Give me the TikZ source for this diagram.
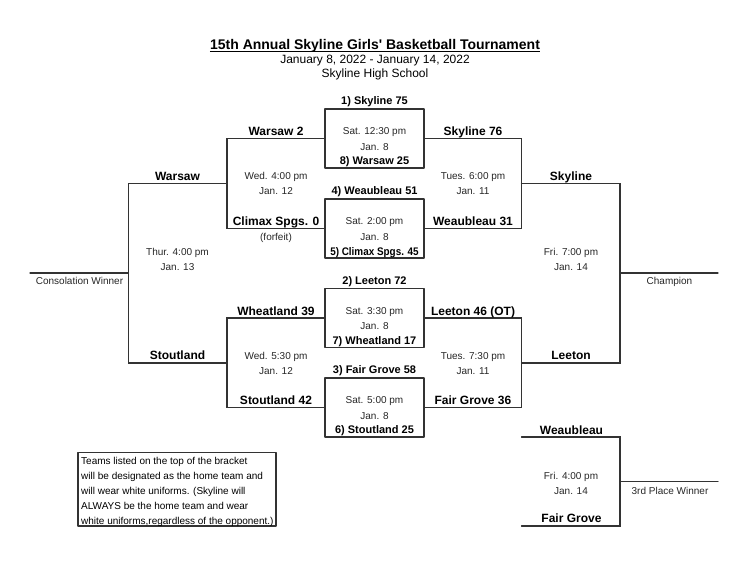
\documentclass[tikz,border=0pt]{standalone}
\usepackage{fontspec}
\setmainfont{Liberation Sans}
\usepackage{tkz-euclide}
\definecolor{linegray}{HTML}{333333}

\begin{document}
\begin{tikzpicture}[x=1pt,y=-1pt,
		bracket/.style={line width=1.25pt,color=linegray},
		title/.style={font=\bfseries\fontsize{14}{16}\selectfont,text height=10pt,text depth=0pt,inner sep=0pt},
		head/.style={font=\fontsize{12}{14}\selectfont,text height=8.6pt,text depth=0pt,inner sep=0pt},
		team/.style={font=\bfseries\fontsize{12}{14}\selectfont,text height=8.6pt,text depth=0pt,inner sep=0pt},
		seed/.style={font=\bfseries\fontsize{11}{13}\selectfont,text height=7.9pt,text depth=0pt,inner sep=0pt},
		info/.style={font=\fontsize{10}{12}\selectfont,text=black!85,text height=7.2pt,text depth=0pt,inner sep=0pt},
		note/.style={info,text=black,anchor=west}]
		\useasboundingbox (0,0) rectangle (750,563);
		\tkzDefPoint(325,109){s_{1}}\tkzDefPoint(424,109){s_{2}}\tkzDefPoint(424,168){s_{3}}\tkzDefPoint(325,168){s_{4}}
		\tkzDefPoint(325,199){s_{5}}\tkzDefPoint(424,199){s_{6}}\tkzDefPoint(424,258){s_{7}}\tkzDefPoint(325,258){s_{8}}
		\tkzDefPoint(325,288.5){s_{9}}\tkzDefPoint(424,288.5){s_{10}}\tkzDefPoint(424,347.5){s_{11}}\tkzDefPoint(325,347.5){s_{12}}
		\tkzDefPoint(325,378){s_{13}}\tkzDefPoint(424,378){s_{14}}\tkzDefPoint(424,437){s_{15}}\tkzDefPoint(325,437){s_{16}}
		\tkzDefPoint(325,138.5){a_{1}}\tkzDefPoint(227,138.5){a_{2}}\tkzDefPoint(227,228.5){a_{3}}\tkzDefPoint(325,228.5){a_{4}}
		\tkzDefPoint(325,318){a_{5}}\tkzDefPoint(227,318){a_{6}}\tkzDefPoint(227,407.5){a_{7}}\tkzDefPoint(325,407.5){a_{8}}
		\tkzDefPoint(424,138.5){b_{1}}\tkzDefPoint(521.5,138.5){b_{2}}\tkzDefPoint(521.5,228.5){b_{3}}\tkzDefPoint(424,228.5){b_{4}}
		\tkzDefPoint(424,318){b_{5}}\tkzDefPoint(521.5,318){b_{6}}\tkzDefPoint(521.5,407.5){b_{7}}\tkzDefPoint(424,407.5){b_{8}}
		\tkzDefPoint(227,183.5){c_{1}}\tkzDefPoint(128.5,183.5){c_{2}}\tkzDefPoint(128.5,363){c_{3}}\tkzDefPoint(227,363){c_{4}}
		\tkzDefPoint(128.5,273){c_{5}}\tkzDefPoint(30,273){c_{6}}
		\tkzDefPoint(521.5,183.5){d_{1}}\tkzDefPoint(620,183.5){d_{2}}\tkzDefPoint(620,363){d_{3}}\tkzDefPoint(521.5,363){d_{4}}
		\tkzDefPoint(620,273){d_{5}}\tkzDefPoint(718,273){d_{6}}
		\tkzDefPoint(521.5,437){e_{1}}\tkzDefPoint(620,437){e_{2}}\tkzDefPoint(620,526){e_{3}}\tkzDefPoint(521.5,526){e_{4}}
		\tkzDefPoint(620,481.5){e_{5}}\tkzDefPoint(718,481.5){e_{6}}
		\tkzDefPoint(78,452.5){n_{1}}\tkzDefPoint(276,452.5){n_{2}}\tkzDefPoint(276,526){n_{3}}\tkzDefPoint(78,526){n_{4}}
		\tkzDrawPolygon[bracket](s_{1},s_{2},s_{3},s_{4})
		\tkzDrawPolygon[bracket](s_{5},s_{6},s_{7},s_{8})
		\tkzDrawPolygon[bracket](s_{9},s_{10},s_{11},s_{12})
		\tkzDrawPolygon[bracket](s_{13},s_{14},s_{15},s_{16})
		\tkzDrawPolySeg[bracket](a_{1},a_{2},a_{3},a_{4})
		\tkzDrawPolySeg[bracket](a_{5},a_{6},a_{7},a_{8})
		\tkzDrawPolySeg[bracket](b_{1},b_{2},b_{3},b_{4})
		\tkzDrawPolySeg[bracket](b_{5},b_{6},b_{7},b_{8})
		\tkzDrawPolySeg[bracket](c_{1},c_{2},c_{3},c_{4})
		\tkzDrawPolySeg[bracket](d_{1},d_{2},d_{3},d_{4})
		\tkzDrawPolySeg[bracket](e_{1},e_{2},e_{3},e_{4})
		\tkzDrawSegments[bracket](c_{5},c_{6} d_{5},d_{6} e_{5},e_{6})
		\tkzDrawPolygon[bracket](n_{1},n_{2},n_{3},n_{4})
		\node[title] (ttl) at (375,44.5) {15th Annual Skyline Girls\textquotesingle{} Basketball Tournament};
		\draw[line width=1pt] ([yshift=-1.8pt]ttl.south west) -- ([yshift=-1.8pt]ttl.south east);
		\node[head] (dts) at (375,59) {January 8, 2022 - January 14, 2022};
		\node[head] (sch) at (375,73) {Skyline High School};
		\node[seed] (g_{1}) at (374.5,101) {1) Skyline 75};
		\node[info] (t_{1}) at (374.5,131) {Sat. 12:30 pm};
		\node[info] (j_{1}) at (374.5,147) {Jan. 8};
		\node[seed] (g_{8}) at (374.5,161) {8) Warsaw 25};
		\node[seed] (g_{4}) at (374.5,191) {4) Weaubleau 51};
		\node[info] (t_{2}) at (374.5,221) {Sat. 2:00 pm};
		\node[info] (j_{2}) at (374.5,237) {Jan. 8};
		\node[seed] (g_{5}) at (374.5,251.5) {\scalebox{.9}[1]{5) Climax Spgs. 45}};
		\node[seed] (g_{2}) at (374.5,281) {2) Leeton 72};
		\node[info] (t_{3}) at (374.5,311) {Sat. 3:30 pm};
		\node[info] (j_{3}) at (374.5,326) {Jan. 8};
		\node[seed] (g_{7}) at (374.5,340.5) {7) Wheatland 17};
		\node[seed] (g_{3}) at (374.5,370) {3) Fair Grove 58};
		\node[info] (t_{4}) at (374.5,400) {Sat. 5:00 pm};
		\node[info] (j_{4}) at (374.5,416) {Jan. 8};
		\node[seed] (g_{6}) at (374.5,430) {6) Stoutland 25};
		\node[team] (q_{1}) at (276,131) {Warsaw 2};
		\node[info] (t_{5}) at (276,176) {Wed. 4:00 pm};
		\node[info] (j_{5}) at (276,191) {Jan. 12};
		\node[team] (q_{2}) at (276,221) {Climax Spgs. 0};
		\node[info] (f_{1}) at (276,237) {(forfeit)};
		\node[team] (q_{3}) at (276,311) {Wheatland 39};
		\node[info] (t_{6}) at (276,356) {Wed. 5:30 pm};
		\node[info] (j_{6}) at (276,371) {Jan. 12};
		\node[team] (q_{4}) at (276,400) {Stoutland 42};
		\node[team] (q_{5}) at (473,131) {Skyline 76};
		\node[info] (t_{7}) at (473,176) {Tues. 6:00 pm};
		\node[info] (j_{7}) at (473,191) {Jan. 11};
		\node[team] (q_{6}) at (473,221) {Weaubleau 31};
		\node[team] (q_{7}) at (473,311) {Leeton 46 (OT)};
		\node[info] (t_{8}) at (473,356) {Tues. 7:30 pm};
		\node[info] (j_{8}) at (473,371) {Jan. 11};
		\node[team] (q_{8}) at (473,400) {Fair Grove 36};
		\node[team] (h_{1}) at (177.5,176) {Warsaw};
		\node[info] (t_{9}) at (177.5,252) {Thur. 4:00 pm};
		\node[info] (j_{9}) at (177.5,267) {Jan. 13};
		\node[team] (h_{2}) at (177.5,355) {Stoutland};
		\node[info] (w_{1}) at (79.5,281) {Consolation Winner};
		\node[team] (h_{3}) at (571,176) {Skyline};
		\node[info] (t_{10}) at (571,252) {Fri. 7:00 pm};
		\node[info] (j_{10}) at (571,267) {Jan. 14};
		\node[team] (h_{4}) at (571,355) {Leeton};
		\node[info] (w_{2}) at (669.5,281) {Champion};
		\node[team] (h_{5}) at (571.5,430) {Weaubleau};
		\node[info] (t_{11}) at (571,476) {Fri. 4:00 pm};
		\node[info] (j_{11}) at (571,491) {Jan. 14};
		\node[team] (h_{6}) at (571.5,518.5) {Fair Grove};
		\node[info] (w_{3}) at (670,491) {3rd Place Winner};
		\node[note] (m_{1}) at (81,461) {Teams listed on the top of the bracket};
		\node[note] (m_{2}) at (81,476) {will be designated as the home team and};
		\node[note] (m_{3}) at (81,491) {will wear white uniforms. (Skyline will};
		\node[note] (m_{4}) at (81,506) {ALWAYS be the home team and wear};
		\node[note] (m_{5}) at (81,520.5) {white uniforms,regardless of the opponent.)};
	\end{tikzpicture}
\end{document}
